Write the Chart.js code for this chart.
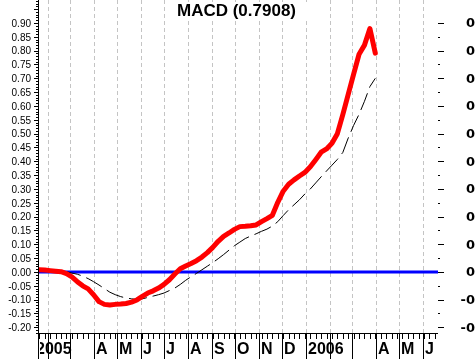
<!DOCTYPE html>
<html><head><meta charset="utf-8">
<script src="https://cdn.jsdelivr.net/npm/chart.js@4.4.1/dist/chart.umd.min.js"></script>
<style>html,body{margin:0;padding:0;background:#fff;overflow:hidden}#wrap{width:476px;height:359px;position:relative}</style>
</head><body><div id="wrap"><canvas id="c" width="476" height="359"></canvas></div>
<script>
// ---- data ----
const chartTitle = "MACD (0.7908)";
const firstWeek = "2005-01-21";          // first weekly sample (Friday)
const macdValues = [
  0.008, 0.007, 0.005, 0.003, 0.001, -0.006, -0.018, -0.035, -0.050, -0.061,
  -0.082, -0.107, -0.117, -0.119, -0.117, -0.116, -0.114, -0.109, -0.101, -0.088,
  -0.076, -0.068, -0.058, -0.045, -0.028, -0.007, 0.012, 0.022, 0.031, 0.041,
  0.054, 0.070, 0.089, 0.111, 0.129, 0.141, 0.154, 0.164, 0.165, 0.167,
  0.170, 0.182, 0.193, 0.205, 0.252, 0.292, 0.317, 0.333, 0.347, 0.360,
  0.380, 0.406, 0.433, 0.445, 0.465, 0.500, 0.569, 0.642, 0.715, 0.787,
  0.820, 0.880, 0.791
];
const signalValues = [
  0.013, 0.011, 0.009, 0.007, 0.004, 0.001, -0.004, -0.008, -0.015, -0.024,
  -0.035, -0.047, -0.060, -0.073, -0.082, -0.089, -0.094, -0.097, -0.099, -0.097,
  -0.092, -0.087, -0.082, -0.076, -0.067, -0.058, -0.045, -0.030, -0.017, -0.005,
  0.008, 0.021, 0.034, 0.048, 0.063, 0.079, 0.095, 0.108, 0.121, 0.130,
  0.138, 0.147, 0.155, 0.166, 0.182, 0.204, 0.225, 0.243, 0.261, 0.282,
  0.300, 0.322, 0.344, 0.365, 0.386, 0.407, 0.432, 0.484, 0.530, 0.570,
  0.617, 0.670, 0.700
];
const monthStarts = ["2005-01-01","2005-02-01","2005-03-01","2005-04-01","2005-05-01","2005-06-01",
  "2005-07-01","2005-08-01","2005-09-01","2005-10-01","2005-11-01","2005-12-01",
  "2006-01-01","2006-02-01","2006-03-01","2006-04-01","2006-05-01","2006-06-01"];
const monthLabels = ["2005","","","A","M","J","J","A","S","O","N","D","2006","","","A","M","J"];
const leftTickLabels = ["-0.20","-0.15","-0.10","-0.05","0.00","0.05","0.10","0.15","0.20","0.25","0.30",
  "0.35","0.40","0.45","0.50","0.55","0.60","0.65","0.70","0.75","0.80","0.85","0.90"];
const rightTickLabels = ["-0.20","-0.10","0.00","0.10","0.20","0.30","0.40","0.50","0.60","0.70","0.80","0.90"];
const xRange = ["2005-01-21","2006-06-20"];
const yRange = [-0.2241, 0.9831];

// ---- helpers ----
const DAY = 86400000;
const origin = Date.UTC(2005,0,1);
function dayOf(s){ const p=s.split("-").map(Number); return (Date.UTC(p[0],p[1]-1,p[2])-origin)/DAY; }
const startDay = dayOf(firstWeek);
const sampleDays = macdValues.map((_,i)=>startDay + 7*i);
const monthDays = monthStarts.map(dayOf);

const axesPlugin = {
  id:'axesPlugin',
  beforeDatasetsDraw(chart){
    const {ctx, chartArea:a, scales:{x,y}} = chart;
    ctx.save();
    // dashed month grid
    ctx.strokeStyle='#c4c4c4'; ctx.lineWidth=1; ctx.setLineDash([4,3]);
    monthDays.forEach(d=>{
      const px = Math.round(x.getPixelForValue(d))+0.5;
      if(px<=a.left+2||px>=a.right) return;
      ctx.beginPath(); ctx.moveTo(px,a.top); ctx.lineTo(px,a.bottom); ctx.stroke();
    });
    ctx.setLineDash([]);
    // title background
    ctx.font='bold 17px "Liberation Sans", Arial, sans-serif';
    const tw = ctx.measureText(chartTitle).width;
    const cx = (a.left+a.right)/2 - 2;
    ctx.fillStyle='#fff';
    ctx.fillRect(cx-tw/2-12, 2, tw+24, 19);
    // zero line
    const y0 = y.getPixelForValue(0);
    ctx.strokeStyle='#0000ff'; ctx.lineWidth=3;
    ctx.beginPath(); ctx.moveTo(a.left,y0); ctx.lineTo(a.right,y0); ctx.stroke();
    ctx.restore();
  },
  afterDatasetsDraw(chart){
    const {ctx, chartArea:a, scales:{x,y}} = chart;
    const H = chart.height;
    ctx.save();
    ctx.strokeStyle='#000'; ctx.fillStyle='#000'; ctx.lineWidth=1;
    // left axis line
    ctx.beginPath(); ctx.moveTo(a.left-0.5,0); ctx.lineTo(a.left-0.5,H); ctx.stroke();
    // left minor / major ticks
    for(let i=-22;i<=98;i++){
      const v=i/100; const py=Math.round(y.getPixelForValue(v))+0.5;
      if(py<a.top||py>a.bottom) continue;
      const len = (i%5===0)?4:2;
      ctx.beginPath(); ctx.moveTo(a.left-1-len,py); ctx.lineTo(a.left-1,py); ctx.stroke();
    }
    ctx.font='10px "Liberation Sans", Arial, sans-serif';
    ctx.textAlign='right'; ctx.textBaseline='middle';
    leftTickLabels.forEach(t=>{
      const py=y.getPixelForValue(parseFloat(t));
      ctx.fillText(t, a.left-8, py+1);
    });
    // right ticks
    for(let i=-4;i<=18;i++){
      const v=i*0.05; const py=Math.round(y.getPixelForValue(v))+0.5;
      const len=(i%2===0)?6:2;
      ctx.beginPath(); ctx.moveTo(a.right,py); ctx.lineTo(a.right+len,py); ctx.stroke();
    }
    ctx.font='bold 13px "DejaVu Sans", sans-serif';
    const rw = ctx.measureText("0.90").width;
    ctx.textAlign='right';
    rightTickLabels.forEach(t=>{
      const py=y.getPixelForValue(parseFloat(t));
      ctx.fillText(t, 466+rw, py+1);
    });
    // bottom axis
    ctx.beginPath(); ctx.moveTo(a.left,a.bottom-0.5); ctx.lineTo(a.right,a.bottom-0.5); ctx.stroke();
    for(let d=startDay; x.getPixelForValue(d)<=a.right; d+=7){
      const px=Math.round(x.getPixelForValue(d))+0.5;
      ctx.beginPath(); ctx.moveTo(px,a.bottom); ctx.lineTo(px,a.bottom+5); ctx.stroke();
    }
    ctx.font='bold 16px "Liberation Sans", Arial, sans-serif';
    ctx.textAlign='left'; ctx.textBaseline='middle';
    monthDays.forEach((d,i)=>{
      const px=Math.round(x.getPixelForValue(d))+0.5;
      if(px>=a.left && px<=a.right){
        ctx.beginPath(); ctx.moveTo(px,a.bottom); ctx.lineTo(px,H); ctx.stroke();
        if(monthLabels[i]) ctx.fillText(monthLabels[i], px+1.5, a.bottom+16);
      } else if(px<a.left && monthLabels[i]){
        ctx.save();
        ctx.beginPath(); ctx.rect(a.left+1,a.bottom,200,H-a.bottom); ctx.clip();
        ctx.fillText(monthLabels[i], a.left-3, a.bottom+16);
        ctx.restore();
      }
    });
    // title
    ctx.font='bold 17px "Liberation Sans", Arial, sans-serif';
    ctx.textAlign='center'; ctx.textBaseline='middle';
    ctx.fillText(chartTitle, (a.left+a.right)/2 - 2, 11);
    ctx.restore();
  }
};

new Chart(document.getElementById('c'), {
  type:'line',
  data:{datasets:[
    {label:'MACD', data: macdValues.map((v,i)=>({x:sampleDays[i], y:v})),
     borderColor:'#ff0000', borderWidth:5, pointRadius:0, tension:0, order:0,
     borderJoinStyle:'round', borderCapStyle:'round'},
    {label:'Signal', data: signalValues.map((v,i)=>({x:sampleDays[i], y:v})),
     borderColor:'#000000', borderWidth:1, borderDash:[18,6], pointRadius:0, tension:0, order:1}
  ]},
  options:{
    responsive:false, animation:false,
    layout:{padding:{left:39,right:38,top:0,bottom:25}},
    scales:{
      x:{type:'linear', display:false, min:dayOf(xRange[0])-0.5, max:dayOf(xRange[1])},
      y:{type:'linear', display:false, min:yRange[0], max:yRange[1]}
    },
    plugins:{legend:{display:false}, tooltip:{enabled:false}, title:{display:false}}
  },
  plugins:[axesPlugin]
});
</script></body></html>
